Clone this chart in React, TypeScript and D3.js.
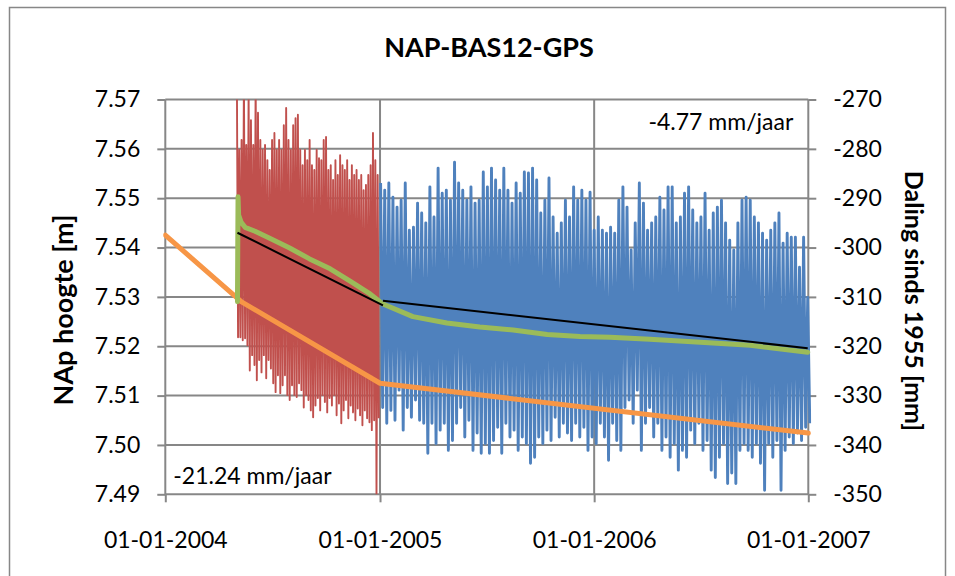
import React, { useEffect, useRef } from 'react';
import * as d3 from 'd3';

const title = 'NAP-BAS12-GPS';
const leftTitle = 'NAp hoogte [m]';
const rightTitle = 'Daling sinds 1955 [mm]';

const xTickDates = ['2004-01-01', '2005-01-01', '2006-01-01', '2007-01-01'];
const xTickLabels = ['01-01-2004', '01-01-2005', '01-01-2006', '01-01-2007'];
const leftTicks = [7.49, 7.5, 7.51, 7.52, 7.53, 7.54, 7.55, 7.56, 7.57];
const rightTicks = [-350, -340, -330, -320, -310, -300, -290, -280, -270];

// GPS hoogte (m), 2004 - min/max per interval
const redStart = '2004-05-02';
const redStepDays = 4;
const redHigh = [
  7.575, 7.5598, 7.5618, 7.575, 7.5608, 7.572, 7.5658, 7.5608, 7.575, 7.5673,
  7.5618, 7.5598, 7.5608, 7.5577, 7.5557, 7.5618, 7.5632, 7.5598, 7.5618, 7.5598,
  7.5648, 7.5683, 7.5618, 7.5598, 7.5648, 7.5662, 7.5669, 7.5598, 7.5567, 7.5598,
  7.5577, 7.5618, 7.5567, 7.5557, 7.5598, 7.5581, 7.5577, 7.5618, 7.5624, 7.5557,
  7.5567, 7.5537, 7.5577, 7.5547, 7.5587, 7.5567, 7.5557, 7.5577, 7.5537, 7.5567,
  7.5547, 7.5557, 7.5537, 7.5547, 7.5516, 7.5527, 7.5547, 7.5567, 7.5632, 7.5577,
  7.5547,
];
const redLow = [
  7.5218, 7.5218, 7.5212, 7.5216, 7.5202, 7.5151, 7.5182, 7.5162, 7.5131, 7.5172,
  7.5147, 7.5182, 7.5135, 7.5172, 7.5155, 7.5125, 7.5107, 7.5141, 7.5105, 7.5121,
  7.5141, 7.5101, 7.5091, 7.5121, 7.5101, 7.5097, 7.5125, 7.5111, 7.5076, 7.5101,
  7.5091, 7.507, 7.5056, 7.508, 7.5095, 7.507, 7.5101, 7.5087, 7.5066, 7.5095,
  7.508, 7.5101, 7.506, 7.5084, 7.5044, 7.507, 7.5091, 7.5054, 7.508, 7.5066,
  7.505, 7.5074, 7.506, 7.504, 7.507, 7.5054, 7.5046, 7.503, 7.505, 7.4894,
  7.5054,
];

// GPS hoogte (m), 2005 - 2006
const blueStart = '2005-01-02';
const blueStepDays = 7;
const blueHigh = [
  7.5531, 7.5516, 7.5531, 7.5502, 7.5482, 7.5496, 7.5531, 7.5435, 7.5441, 7.549,
  7.547, 7.545, 7.5523, 7.5462, 7.5561, 7.551, 7.5516, 7.5496, 7.5573, 7.5531,
  7.5516, 7.5496, 7.5523, 7.549, 7.5496, 7.5553, 7.5523, 7.5561, 7.5537, 7.5516,
  7.5561, 7.5516, 7.549, 7.5531, 7.551, 7.5553, 7.5551, 7.5561, 7.5537, 7.547,
  7.5496, 7.5541, 7.5462, 7.5429, 7.545, 7.5496, 7.5462, 7.5523, 7.5496, 7.5516,
  7.5496, 7.5512, 7.5435, 7.5462, 7.5435, 7.5429, 7.5441, 7.5429, 7.5496, 7.5523,
  7.5482, 7.5395, 7.545, 7.5531, 7.549, 7.5435, 7.545, 7.5462, 7.5502, 7.5476,
  7.5523, 7.5523, 7.545, 7.5462, 7.551, 7.5523, 7.5476, 7.545, 7.5462, 7.551,
  7.5435, 7.547, 7.5482, 7.5496, 7.545, 7.5415, 7.5395, 7.545, 7.5496, 7.5502,
  7.5496, 7.5462, 7.545, 7.5429, 7.5415, 7.5435, 7.545, 7.547, 7.5409, 7.5429,
  7.5421, 7.5421, 7.536, 7.5421, 7.5299,
];
const blueLow = [
  7.5076, 7.5044, 7.507, 7.505, 7.5111, 7.503, 7.5076, 7.5056, 7.5091, 7.505,
  7.5044, 7.4983, 7.5044, 7.5003, 7.503, 7.5044, 7.4989, 7.5009, 7.5044, 7.5076,
  7.5016, 7.505, 7.4989, 7.5024, 7.4983, 7.5003, 7.4983, 7.5009, 7.5036, 7.4983,
  7.5044, 7.5016, 7.503, 7.4989, 7.5016, 7.5003, 7.4963, 7.4975, 7.5016, 7.5003,
  7.503, 7.5009, 7.5056, 7.5016, 7.5044, 7.5024, 7.5009, 7.5044, 7.5016, 7.5036,
  7.4989, 7.5016, 7.5003, 7.5044, 7.5016, 7.4969, 7.5044, 7.5009, 7.4989, 7.5076,
  7.5091, 7.5044, 7.5111, 7.4989, 7.5044, 7.5076, 7.5016, 7.5044, 7.4989, 7.5016,
  7.4975, 7.5003, 7.4949, 7.4989, 7.4975, 7.503, 7.5003, 7.5044, 7.4989, 7.5009,
  7.4949, 7.4934, 7.4975, 7.5003, 7.4922, 7.4943, 7.4922, 7.4989, 7.5003, 7.4989,
  7.4975, 7.5003, 7.4963, 7.4908, 7.5003, 7.4975, 7.5009, 7.4908, 7.4989, 7.5016,
  7.5003, 7.5024, 7.5009, 7.5036, 7.5044,
];

// lopend gemiddelde (m)
const greenDates = [
  '2004-05-03', '2004-05-04', '2004-05-05', '2004-05-09', '2004-05-16', '2004-06-02',
  '2004-06-27', '2004-07-31', '2004-09-03', '2004-10-08', '2004-11-11', '2004-12-15',
  '2005-01-03', '2005-01-09', '2005-02-26', '2005-04-25', '2005-06-20', '2005-08-16',
  '2005-10-13', '2005-12-08', '2006-01-28', '2006-04-06', '2006-07-01', '2006-09-24',
  '2006-12-31',
];
const greenValues = [
  7.529, 7.5503, 7.5466, 7.5452, 7.5441, 7.5433,
  7.5419, 7.5399, 7.5377, 7.5357, 7.5332, 7.5306,
  7.5288, 7.5284, 7.526, 7.5247, 7.5239, 7.5233,
  7.5224, 7.522, 7.5218, 7.5214, 7.5208, 7.5202,
  7.5188,
];

// trendlijnen (m)
const trendDates = [['2004-05-03', '2005-01-06'], ['2005-01-06', '2006-12-31']];
const trendValues = [[7.543, 7.5283], [7.5292, 7.5196]];
const trendLabels = ['-21.24 mm/jaar', '-4.77 mm/jaar'];

// daling sinds 1955 (mm)
const dalingDates = ['2004-01-01', '2004-05-10', '2005-01-01', '2007-01-01'];
const dalingValues = [-297.5, -311.0, -327.5, -337.6];

const W = 955;
const H = 576;
const FONT = "Lato, 'Open Sans', sans-serif";
const GRID = '#878787';

const App = () => {
  const svgRef = useRef(null);

  useEffect(() => {
    const parse = d3.timeParse('%Y-%m-%d');
    const svg = d3.select(svgRef.current);
    svg.selectAll('*').remove();

    const left = 165.3, right = 808.3, top = 99.5, bottom = 494.3;

    const x = d3.scaleTime()
      .domain([parse('2004-01-01'), parse('2007-01-01')])
      .range([left, right]);
    const yL = d3.scaleLinear().domain([7.49, 7.57]).range([bottom, top]);
    const yR = d3.scaleLinear().domain([-350, -270]).range([bottom, top]);

    // chart frame
    svg.append('rect')
      .attr('x', 9.5).attr('y', 7.5)
      .attr('width', 936).attr('height', 620)
      .attr('fill', '#fff')
      .attr('stroke', GRID)
      .attr('stroke-width', 1.5);

    // gridlines
    const g = svg.append('g');
    leftTicks.forEach(t => {
      g.append('line')
        .attr('x1', left).attr('x2', right)
        .attr('y1', yL(t)).attr('y2', yL(t))
        .attr('stroke', GRID).attr('stroke-width', 2);
    });
    xTickDates.forEach(d => {
      g.append('line')
        .attr('x1', x(parse(d))).attr('x2', x(parse(d)))
        .attr('y1', top).attr('y2', bottom)
        .attr('stroke', GRID).attr('stroke-width', 2);
    });

    // axes
    const styleAxis = (ax, size) => {
      ax.attr('font-family', FONT).attr('font-size', size);
      ax.select('.domain').remove();
      ax.selectAll('.tick line').attr('stroke', GRID).attr('stroke-width', 2);
      ax.selectAll('.tick text').attr('fill', '#000');
    };

    const axL = svg.append('g')
      .attr('transform', `translate(${left},0)`)
      .call(d3.axisLeft(yL).tickValues(leftTicks).tickFormat(d => d.toFixed(2))
        .tickSize(8).tickPadding(17));
    styleAxis(axL, 23);

    const axR = svg.append('g')
      .attr('transform', `translate(${right},0)`)
      .call(d3.axisRight(yR).tickValues(rightTicks).tickFormat(d => `${d}`)
        .tickSize(8).tickPadding(17));
    styleAxis(axR, 23);

    const axB = svg.append('g')
      .attr('transform', `translate(0,${bottom})`)
      .call(d3.axisBottom(x).tickValues(xTickDates.map(parse))
        .tickFormat((d, i) => xTickLabels[i]).tickSize(8).tickPadding(29));
    styleAxis(axB, 23);

    // clip for series
    svg.append('clipPath').attr('id', 'plotclip')
      .append('rect')
      .attr('x', left - 2).attr('y', top)
      .attr('width', right - left + 5).attr('height', bottom - top);

    const plot = svg.append('g').attr('clip-path', 'url(#plotclip)');

    const lineL = d3.line().x(d => x(d[0])).y(d => yL(d[1]));
    const lineR = d3.line().x(d => x(d[0])).y(d => yR(d[1]));

    // dense measurements: zigzag between per-interval max and min
    const drawSeries = (start, step, hi, lo, color, width) => {
      const t0 = parse(start);
      const pts = [];
      hi.forEach((h, i) => {
        pts.push([d3.timeHour.offset(t0, i * step * 24), h]);
        pts.push([d3.timeHour.offset(t0, i * step * 24 + step * 12), lo[i]]);
      });
      plot.append('path')
        .attr('d', lineL(pts))
        .attr('fill', 'none')
        .attr('stroke', color)
        .attr('stroke-width', width)
        .attr('stroke-linejoin', 'round');
    };

    drawSeries(redStart, redStepDays, redHigh, redLow, '#C0504D', 1.9);
    drawSeries(blueStart, blueStepDays, blueHigh, blueLow, '#4F81BD', 2.9);

    plot.append('path')
      .attr('d', lineR(dalingDates.map((d, i) => [parse(d), dalingValues[i]])))
      .attr('fill', 'none')
      .attr('stroke', '#F79646')
      .attr('stroke-width', 5)
      .attr('stroke-linecap', 'round')
      .attr('stroke-linejoin', 'round');

    plot.append('path')
      .attr('d', lineL(greenDates.map((d, i) => [parse(d), greenValues[i]])))
      .attr('fill', 'none')
      .attr('stroke', '#9BBB59')
      .attr('stroke-width', 5)
      .attr('stroke-linecap', 'round')
      .attr('stroke-linejoin', 'round');

    trendDates.forEach((ds, k) => {
      plot.append('path')
        .attr('d', lineL(ds.map((d, i) => [parse(d), trendValues[k][i]])))
        .attr('fill', 'none')
        .attr('stroke', '#000')
        .attr('stroke-width', 2);
    });

    // trend labels
    svg.append('text')
      .attr('x', left + 8).attr('y', yL(7.4925) + 2)
      .attr('font-family', FONT).attr('font-size', 23)
      .text(trendLabels[0]);
    svg.append('text')
      .attr('x', right - 15).attr('y', yL(7.5638))
      .attr('text-anchor', 'end')
      .attr('font-family', FONT).attr('font-size', 23)
      .text(trendLabels[1]);

    // titles
    svg.append('text')
      .attr('x', 489).attr('y', 57)
      .attr('text-anchor', 'middle')
      .attr('font-family', FONT).attr('font-weight', 'bold').attr('font-size', 27)
      .text(title);

    svg.append('text')
      .attr('transform', 'translate(62,310) rotate(-90)')
      .attr('text-anchor', 'middle')
      .attr('dominant-baseline', 'central')
      .attr('font-family', FONT).attr('font-weight', 'bold').attr('font-size', 27)
      .text(leftTitle);

    svg.append('text')
      .attr('transform', 'translate(915,301) rotate(90)')
      .attr('text-anchor', 'middle')
      .attr('dominant-baseline', 'central')
      .attr('font-family', FONT).attr('font-weight', 'bold').attr('font-size', 25)
      .text(rightTitle);
  }, []);

  return (
    <div style={{ position: 'absolute', left: 0, top: 0, width: W, height: H, overflow: 'hidden', background: '#fff' }}>
      <svg ref={svgRef} width={W} height={H} style={{ display: 'block' }}></svg>
    </div>
  );
};

export default App;
